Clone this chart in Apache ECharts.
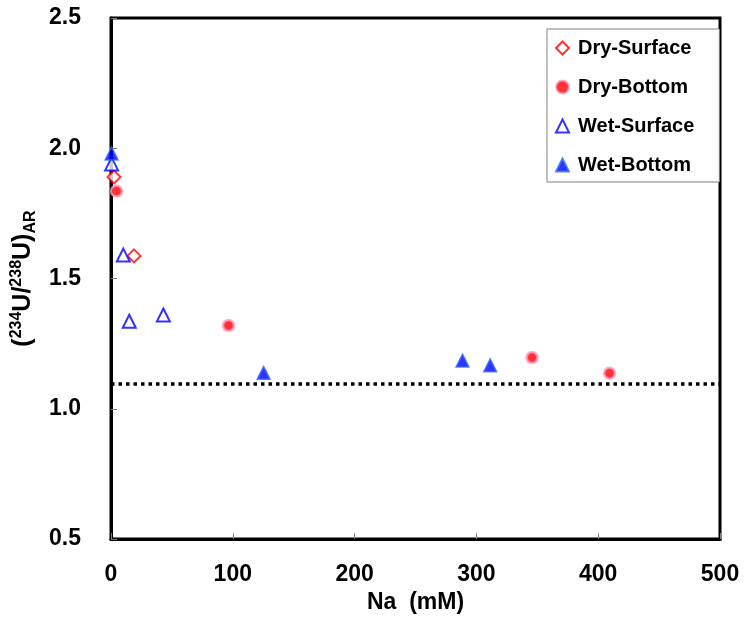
<!DOCTYPE html>
<html><head><meta charset="utf-8">
<script src="https://cdn.jsdelivr.net/npm/echarts@6/dist/echarts.min.js"></script>
<style>html,body{margin:0;padding:0;background:#fff}#c{width:748px;height:619px}</style>
</head><body><div id="c"></div>
<script>
const seriesNames = ['Dry-Surface','Dry-Bottom','Wet-Surface','Wet-Bottom'];
const drySurface = [[2.5,1.89],[18.9,1.587]];
const dryBottom = [[4.6,1.836],[96.5,1.32],[345.7,1.197],[409.3,1.137]];
const wetSurface = [[0.5,1.94],[10.1,1.59],[15,1.336],[43,1.36]];
const wetBottom = [[0.5,1.98],[125.3,1.138],[288.6,1.185],[311.3,1.167]];
const refLine = [[0,1.095],[500,1.095]];
const xTicks = [0,100,200,300,400,500];
const yTicks = [0.5,1.0,1.5,2.0,2.5];

const F = 'Liberation Sans, Arial, sans-serif';
const chart = echarts.init(document.getElementById('c'));
chart.setOption({
  animation:false,
  backgroundColor:'#fff',
  grid:{left:111,right:28,top:18,bottom:77,show:true,borderColor:'#000',borderWidth:3,backgroundColor:'transparent'},
  xAxis:{type:'value',min:xTicks[0],max:xTicks[xTicks.length-1],interval:100,
    name:'Na  (mM)',nameLocation:'middle',nameGap:51,
    nameTextStyle:{fontFamily:F,fontWeight:'bold',fontSize:23,color:'#000'},
    axisLine:{show:true,lineStyle:{color:'#000',width:3}},
    axisTick:{show:true,inside:true,length:6,lineStyle:{color:'#808080',width:1}},
    axisLabel:{fontFamily:F,fontWeight:'bold',fontSize:23,color:'#000',margin:24},
    splitLine:{show:false}},
  yAxis:{type:'value',min:yTicks[0],max:yTicks[yTicks.length-1],interval:0.5,
    name:'{p|(}{s|234}{n|U/}{s|238}{n|U)}{b|AR}',nameLocation:'middle',nameGap:64,nameRotate:90,
    nameTextStyle:{fontFamily:F,fontWeight:'bold',fontSize:25,color:'#000',
      rich:{
        p:{fontFamily:F,fontWeight:'bold',fontSize:25,color:'#000',lineHeight:30},
        n:{fontFamily:F,fontWeight:'bold',fontSize:25,color:'#000',lineHeight:30},
        s:{fontFamily:F,fontWeight:'bold',fontSize:16,color:'#000',verticalAlign:'top',lineHeight:30,padding:[0,0,12,0]},
        b:{fontFamily:F,fontWeight:'bold',fontSize:16,color:'#000',verticalAlign:'bottom',lineHeight:30,padding:[12,0,0,0]}
      }},
    axisLine:{show:true,lineStyle:{color:'#000',width:3}},
    axisTick:{show:true,inside:true,length:6,lineStyle:{color:'#808080',width:1}},
    axisLabel:{fontFamily:F,fontWeight:'bold',fontSize:23,color:'#000',margin:30,
      formatter:v=>v.toFixed(1)},
    splitLine:{show:false}},
  legend:{orient:'vertical',left:547,top:29,
    padding:[9,25,7,8],itemGap:19,itemWidth:13,itemHeight:13,
    borderColor:'#808080',borderWidth:1,backgroundColor:'#fff',
    data:seriesNames,
    textStyle:{fontFamily:F,fontWeight:'bold',fontSize:20,color:'#000',lineHeight:20,padding:[0,0,0,4]}},
  series:[
    {name:'ref',type:'line',data:refLine,symbol:'none',silent:true,
      lineStyle:{color:'#000',width:3.5,type:[3.5,4]},z:1},
    {name:seriesNames[0],type:'scatter',data:drySurface,symbol:'diamond',symbolSize:13,
      itemStyle:{color:'#fff',borderColor:'#ff0000',borderWidth:2},z:3},
    {name:seriesNames[1],type:'scatter',data:dryBottom,symbol:'circle',symbolSize:11,
      itemStyle:{color:'#ff0000',borderColor:'#ff9ec8',borderWidth:2.5},z:3},
    {name:seriesNames[2],type:'scatter',data:wetSurface,symbol:'triangle',symbolSize:13,
      itemStyle:{color:'#fff',borderColor:'#0000ff',borderWidth:2},z:3},
    {name:seriesNames[3],type:'scatter',data:wetBottom,symbol:'triangle',symbolSize:13,
      itemStyle:{color:'#0000ff',borderColor:'#3370ff',borderWidth:1.5},z:4}
  ]
});
</script></body></html>
